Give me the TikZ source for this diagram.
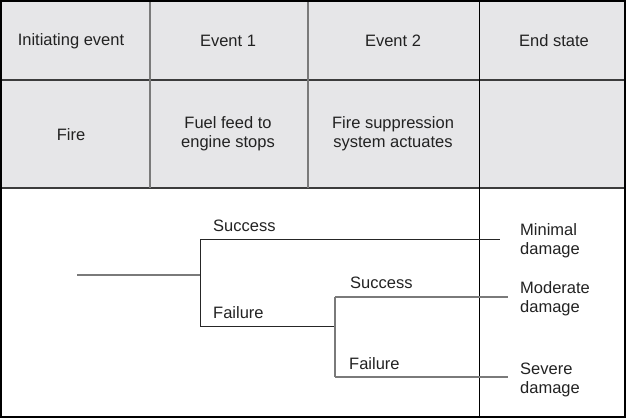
\documentclass[tikz,border=0pt]{standalone}
\usepackage{fontspec}
\setmainfont{Liberation Sans}
\definecolor{cellgray}{HTML}{E6E6E8}
\definecolor{rulegray}{HTML}{3C3C3C}
\definecolor{txt}{HTML}{222222}
\definecolor{branchgray}{HTML}{7A7A7A}
\tikzset{
  celltext/.style={text=txt, align=center, font=\fontsize{16.5}{19}\selectfont, inner sep=0pt},
  lbl/.style={text=txt, align=left, font=\fontsize{16.5}{19}\selectfont, inner sep=0pt, anchor=base west},
  rule/.style={draw=rulegray, line width=1.4pt},
  branch/.style={draw=black!85, line width=1pt},
  graybranch/.style={draw=branchgray, line width=1.2pt}
}
\begin{document}
\begin{tikzpicture}[x=1pt,y=-1pt]
\useasboundingbox (0,0) rectangle (626,418);
% table background
\fill[cellgray] (1,1) rectangle (625,188);
% grid lines
\draw[rule] (1,80) -- (625,80);
\draw[rule] (1,188) -- (625,188);
\draw[rule, draw=branchgray] (150,1) -- (150,188);
\draw[rule, draw=branchgray] (308,1) -- (308,188);
\draw[draw=black, line width=1pt] (479.5,1) -- (479.5,417);
\draw[draw=black, line width=1.4pt] (1,1) rectangle (625,417);
% header texts
\node[celltext] (h0) at (71,41) {Initiating event};
\node[celltext] (h1) at (228,41) {Event 1};
\node[celltext] (h2) at (393,41) {Event 2};
\node[celltext] (h3) at (554,41) {End state};
\node[celltext] (r0) at (71,135) {Fire};
\node[celltext] (r1) at (228,134) {Fuel feed to\\engine stops};
\node[celltext] (r2) at (393,134) {Fire suppression\\system actuates};
% tree
\coordinate (s) at (77,275);
\coordinate (b1) at (200,275);
\coordinate (b1t) at (200,239);
\coordinate (b1b) at (200,326);
\coordinate (e1) at (500,239);
\coordinate (b2) at (335,326);
\coordinate (b2t) at (335,297);
\coordinate (b2b) at (335,377);
\coordinate (e2) at (508,297);
\coordinate (e3) at (508,377);
\draw[graybranch] (s) -- (b1);
\draw[branch] (b1t) -- (b1b);
\draw[branch] (b1t) -- (e1);
\draw[branch] (b1b) -- (b2);
\draw[graybranch] (b2t) -- (b2b);
\draw[graybranch] (b2t) -- (e2);
\draw[graybranch] (b2b) -- (e3);
% branch labels
\node[lbl] (s1) at (213,231) {Success};
\node[lbl] (f1) at (213,318) {Failure};
\node[lbl] (s2) at (350,288) {Success};
\node[lbl] (f2) at (349,369) {Failure};
% end states
\node[lbl] (o1) at (520,235) {Minimal};
\node[lbl] (o1b) at (520,254) {damage};
\node[lbl] (o2) at (520,293) {Moderate};
\node[lbl] (o2b) at (520,312) {damage};
\node[lbl] (o3) at (520,374) {Severe};
\node[lbl] (o3b) at (520,393) {damage};
\end{tikzpicture}
\end{document}
